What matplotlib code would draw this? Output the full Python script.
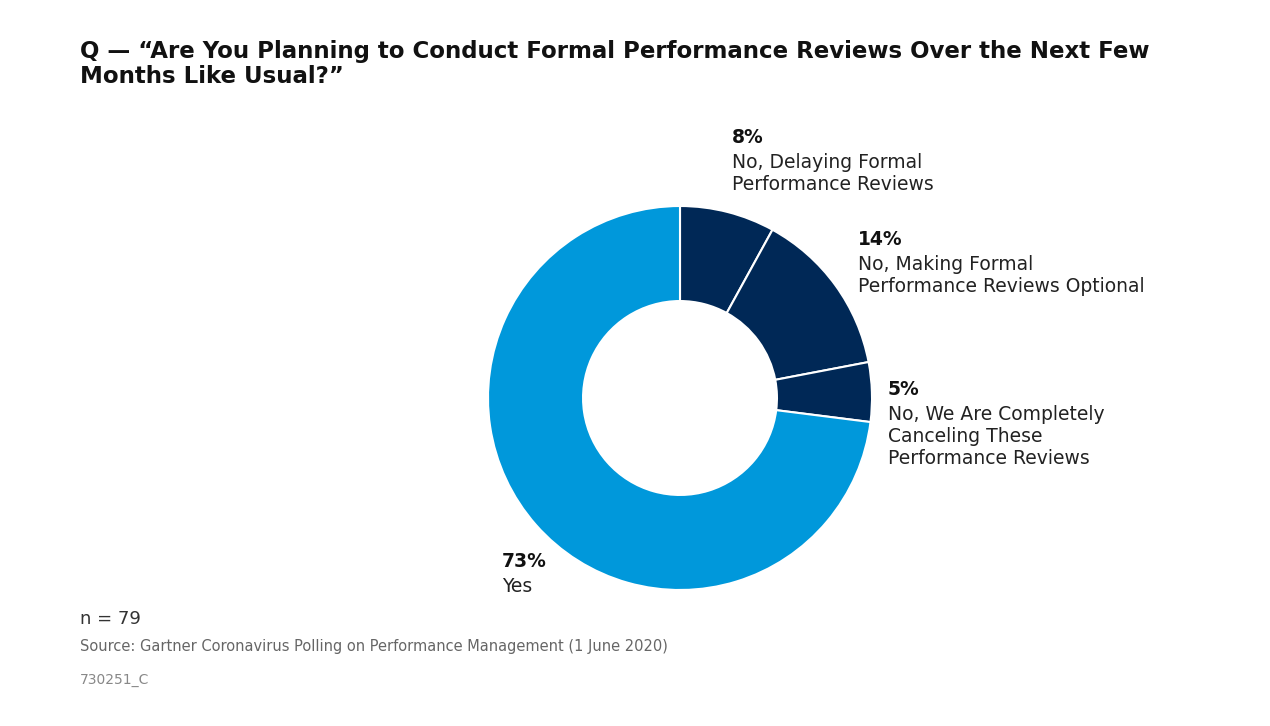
import matplotlib.pyplot as plt

shares = [8, 14, 5, 73]
pcts = ["8%", "14%", "5%", "73%"]
names = ["No, Delaying Formal\nPerformance Reviews",
         "No, Making Formal\nPerformance Reviews Optional",
         "No, We Are Completely\nCanceling These\nPerformance Reviews",
         "Yes"]
colors = ["#002856", "#002856", "#002856", "#0098DB"]

W, H = 1270, 726
fig = plt.figure(figsize=(W / 100, H / 100), dpi=100)
fig.patch.set_facecolor("white")

cx, cy, r = 680, 398, 192
ax = fig.add_axes([(cx - r) / W, (H - cy - r) / H, 2 * r / W, 2 * r / H])
ax.pie(shares, colors=colors, startangle=90, counterclock=False, radius=1,
       wedgeprops=dict(width=0.495, edgecolor="white", linewidth=1.5))
ax.set_xlim(-1, 1)
ax.set_ylim(-1, 1)
ax.set_aspect("equal")
ax.axis("off")


def px(x, y, s, **kw):
    fig.text(x / W, 1 - y / H, s, va="top", ha="left", **kw)


px(80, 40, "Q — “Are You Planning to Conduct Formal Performance Reviews Over the Next Few\nMonths Like Usual?”",
   fontsize=16.5, fontweight="bold", color="#111111", linespacing=1.1)

pos = [(732, 128), (858, 230), (888, 380), (502, 552)]
for (x, y), p, n in zip(pos, pcts, names):
    px(x, y, p, fontsize=13.5, fontweight="bold", color="#111111")
    px(x, y + 25, n, fontsize=13.5, color="#222222", linespacing=1.2)

px(80, 610, "n = 79", fontsize=13, color="#333333")
px(80, 639, "Source: Gartner Coronavirus Polling on Performance Management (1 June 2020)",
   fontsize=10.5, color="#666666")
px(80, 673, "730251_C", fontsize=10, color="#888888")

fig.savefig("out.png", dpi=100)
